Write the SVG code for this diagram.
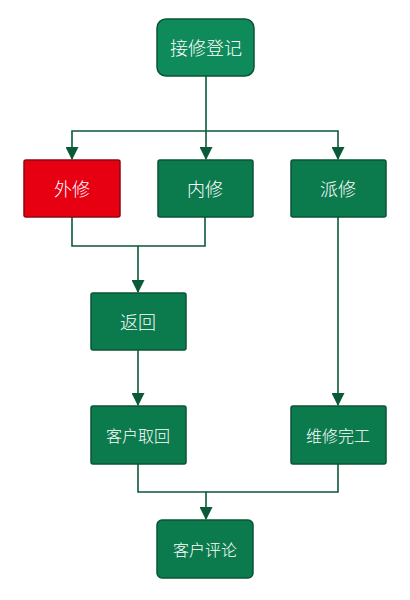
<svg xmlns="http://www.w3.org/2000/svg" width="410" height="600" viewBox="0 0 410 600">
<defs>
<style>
.n{fill:#0b7a4d;stroke:#0a5434;stroke-width:1.5}
.r{fill:#0f8b5b;stroke:#0a5434;stroke-width:1.5}
.red{fill:#e60012;stroke:#8a0a10;stroke-width:1.5}
.t{fill:#ffffff;font-family:"Noto Sans CJK SC","Noto Sans",sans-serif;font-size:18px;font-weight:300;text-anchor:middle;dominant-baseline:central}
.s{font-size:16px}
.c{fill:none;stroke:#0b5a37;stroke-width:1.6}
</style>
<marker id="a" viewBox="0 0 12 12" refX="11" refY="6" markerWidth="13" markerHeight="13" markerUnits="userSpaceOnUse" orient="auto">
<path d="M0,0 L12,6 L0,12 Z" fill="#0b5a37"/>
</marker>
</defs>
<g id="connectors">
<path class="c" d="M206,76 V131 H72 V159" marker-end="url(#a)"/>
<path class="c" d="M206,131 V159" marker-end="url(#a)"/>
<path class="c" d="M206,131 H338 V159" marker-end="url(#a)"/>
<path class="c" d="M72,217 V246 H138 V292" marker-end="url(#a)"/>
<path class="c" d="M205,217 V246 H138"/>
<path class="c" d="M138,350 V405" marker-end="url(#a)"/>
<path class="c" d="M338,217 V405" marker-end="url(#a)"/>
<path class="c" d="M138,464 V492 H206 V519" marker-end="url(#a)"/>
<path class="c" d="M338,464 V492 H206"/>
</g>
<g id="n1"><rect class="r" x="157" y="19" width="97" height="57" rx="9"/><text class="t" x="206" y="47">接修登记</text></g>
<g id="n2"><rect class="red" x="24" y="160" width="96" height="57" rx="2"/><text class="t" x="72" y="188">外修</text></g>
<g id="n3"><rect class="n" x="158" y="160" width="95" height="57" rx="2"/><text class="t" x="205" y="188">内修</text></g>
<g id="n4"><rect class="n" x="291" y="160" width="95" height="57" rx="2"/><text class="t" x="338" y="188">派修</text></g>
<g id="n5"><rect class="n" x="91" y="293" width="95" height="57" rx="2"/><text class="t" x="138" y="321">返回</text></g>
<g id="n6"><rect class="n" x="91" y="406" width="95" height="58" rx="2"/><text class="t s" x="138" y="435">客户取回</text></g>
<g id="n7"><rect class="n" x="291" y="406" width="95" height="58" rx="2"/><text class="t s" x="338" y="435">维修完工</text></g>
<g id="n8"><rect class="n" x="157" y="520" width="96" height="58" rx="5"/><text class="t s" x="205" y="549">客户评论</text></g>
</svg>
